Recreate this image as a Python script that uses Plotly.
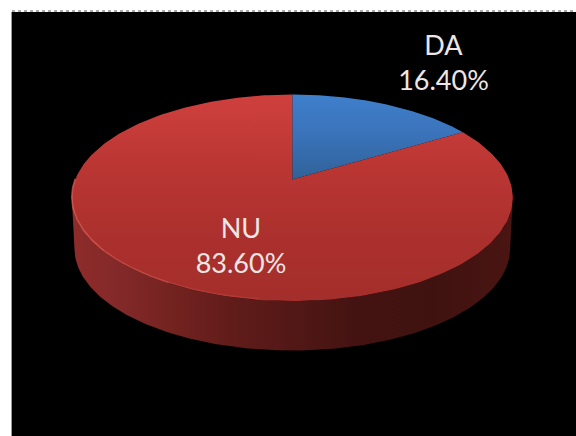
import numpy as np
import plotly.graph_objects as go

# Data
labels = ["DA", "NU"]
values = [16.40, 83.60]
value_text = ["16.40%", "83.60%"]

# Styling / layout
W, H = 576, 436
CX, APEX_Y = 292.3, 179.5
BACK, FRONT = 85.0, 121.5      # apex to back / front rim, pixels
HALF_W = 220.5
DEPTH = 51.0
K = (FRONT - BACK) / (FRONT + BACK)
A = BACK * (1 + K)
B = HALF_W * np.sqrt(1 - K * K)

label_x = [443.5, 241]
label_y = [65.5, 249]


def rim(frac0, frac1, n=240, scale=1.0, drop=0.0):
    """Project pie fractions (clockwise from 12 o'clock) onto the tilted disc."""
    t = 2 * np.pi * np.linspace(frac0, frac1, n)
    u, v = np.sin(t), np.cos(t)
    d = 1 + K * v
    return CX + scale * B * u / d, APEX_Y - scale * A * v / d + drop


total = sum(values)
shares = [v / total for v in values]
cuts = np.cumsum([0] + shares)

fig = go.Figure()

# Side wall: front half of the disc, from the widest point on the right to the widest on the left
f_right = np.arccos(-K) / (2 * np.pi)
f_left = 1 - f_right
xt, yt = rim(f_right, f_left)
xb, yb = rim(f_right, f_left, scale=0.988, drop=DEPTH)
fig.add_trace(go.Scatter(
    x=np.r_[xt, xb[::-1]], y=np.r_[yt, yb[::-1]],
    mode="lines", line=dict(width=0), fill="toself", hoverinfo="skip",
    fillgradient=dict(type="horizontal", colorscale=[
        [0.00, "#8E2C29"], [0.10, "#84292A"], [0.22, "#742320"],
        [0.36, "#611C1A"], [0.50, "#521816"], [0.65, "#431311"],
        [0.82, "#3F1210"], [1.00, "#4A1512"]]),
))

# Top faces (the y axis runs downwards, so the scales run from the bottom of the face up)
top_scales = {
    "DA": [[0, "#2F6298"], [0.5, "#3A72B8"], [1, "#3F7FCC"]],
    "NU": [[0, "#A42E2B"], [0.3, "#AB302D"], [0.65, "#BA3633"], [1, "#CF403D"]],
}
for i, name in enumerate(labels):
    x, y = rim(cuts[i], cuts[i + 1])
    fig.add_trace(go.Scatter(
        x=np.r_[CX, x, CX], y=np.r_[APEX_Y, y, APEX_Y],
        mode="lines", line=dict(width=0), fill="toself", hoverinfo="skip",
        fillgradient=dict(type="vertical", colorscale=top_scales[name]),
    ))

# Bevel highlight along the lit front-left rim, fading towards the centre
for f0, f1, alpha in [(0.75, 0.70, 0.65), (0.70, 0.64, 0.55), (0.64, 0.58, 0.40), (0.58, 0.52, 0.20)]:
    x, y = rim(f0, f1, n=60)
    fig.add_trace(go.Scatter(
        x=x, y=y - 0.8, mode="lines", hoverinfo="skip",
        line=dict(color=f"rgba(235,110,100,{alpha})", width=1.6),
    ))

# Data labels
fig.add_trace(go.Scatter(
    x=label_x, y=label_y, mode="text", hoverinfo="skip",
    text=[f"{n}<br>{v}" for n, v in zip(labels, value_text)],
    textposition="middle center",
    textfont=dict(family="Lato, Carlito, sans-serif", size=27, color="#EDE6E4"),
))

fig.update_layout(
    width=W, height=H, autosize=False, showlegend=False,
    margin=dict(l=0, r=0, t=0, b=0),
    paper_bgcolor="white", plot_bgcolor="white",
    xaxis=dict(range=[0, W], visible=False),
    yaxis=dict(range=[H, 0], visible=False),
    shapes=[
        dict(type="rect", x0=12, x1=W, y0=12, y1=H, layer="below",
             fillcolor="black", line=dict(width=0)),
        dict(type="line", x0=12, x1=W, y0=11, y1=11, layer="below",
             line=dict(color="#555555", width=1, dash="dot")),
        dict(type="line", x0=11.5, x1=11.5, y0=12, y1=H, layer="below",
             line=dict(color="#999999", width=1)),
    ],
)

fig.write_html(
    "out.html",
    config={"displayModeBar": False},
    post_script="document.body.style.margin='0';document.body.style.overflow='hidden';",
)
